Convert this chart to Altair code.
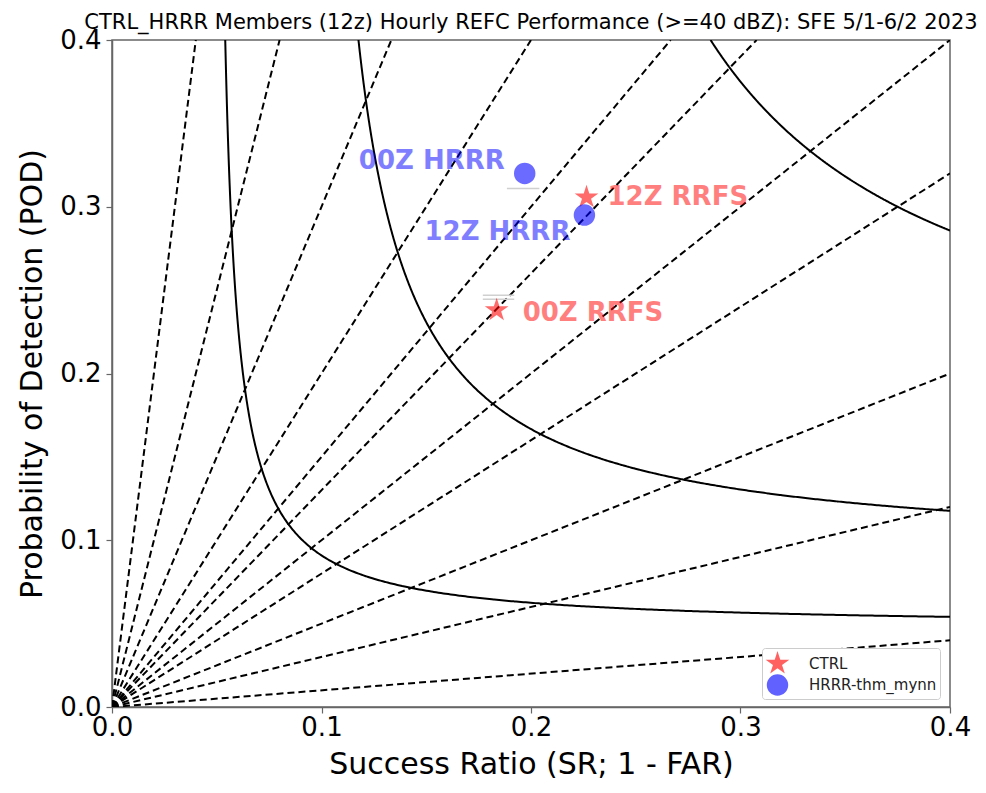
import numpy as np
import pandas as pd
import altair as alt

# Verification scores per run
models = ["CTRL", "CTRL", "HRRR-thm_mynn", "HRRR-thm_mynn"]
run_labels = ["12Z RRFS", "00Z RRFS", "12Z HRRR", "00Z HRRR"]
success_ratio = [0.2265, 0.1836, 0.2255, 0.1970]
pod = [0.3057, 0.2380, 0.2950, 0.3200]

# faint grey segments next to two of the runs
seg_sr_start = [0.1885, 0.1770, 0.1770]
seg_sr_end = [0.2040, 0.1920, 0.1920]
seg_pod = [0.3110, 0.2470, 0.2445]

# background reference lines of the performance diagram
csi_levels = [0.05, 0.1, 0.2]
bias_levels = [0.1, 0.3, 0.5, 0.8, 1.0, 1.3, 1.5, 2.0, 3.0, 5.0, 10.0]
axis_ticks = [0.0, 0.1, 0.2, 0.3, 0.4]
LIM = 0.4

model_colors = {"CTRL": "#ff0000", "HRRR-thm_mynn": "#0000ff"}

# label placement relative to each marker: (align, dx, dy)
label_layout = {
    "12Z RRFS": ("left", 21, 0),
    "00Z RRFS": ("left", 26, 3),
    "12Z HRRR": ("right", -14, 17),
    "00Z HRRR": ("right", -20, -12),
}

# five-point star symbol path in unit coordinates
_k = np.arange(10)
_ang = np.deg2rad(-90 + 36 * _k)
_rad = np.where(_k % 2 == 0, 1.0, 0.382)
STAR = "M" + " L".join(f"{r * np.cos(a):.4f},{r * np.sin(a):.4f}" for r, a in zip(_rad, _ang)) + " Z"

points = pd.DataFrame({"model": models, "label": run_labels, "sr": success_ratio, "pod": pod})
segments = pd.DataFrame({"sr": seg_sr_start, "sr2": seg_sr_end, "pod": seg_pod})

# CSI isolines: CSI = 1 / (1/SR + 1/POD - 1)
csi_rows = []
for c in csi_levels:
    inv = 1.0 / c + 1.0
    edge = 1.0 / (inv - 1.0 / LIM)  # SR where POD hits the top, and POD at the right edge
    sr_a = np.linspace(edge, LIM, 300)
    pod_a = 1.0 / (inv - 1.0 / sr_a)
    pod_b = np.linspace(edge, LIM, 300)
    sr_b = 1.0 / (inv - 1.0 / pod_b)
    sr_all = np.concatenate([sr_a, sr_b])
    pod_all = np.concatenate([pod_a, pod_b])
    order = np.argsort(sr_all)
    for s, p in zip(sr_all[order], pod_all[order]):
        csi_rows.append({"level": c, "sr": float(s), "pod": float(p)})
csi_df = pd.DataFrame(csi_rows)

# frequency bias lines: POD = bias * SR
bias_rows = []
for b in bias_levels:
    end = LIM / max(b, 1.0)
    bias_rows.append({"bias": b, "sr": 0.0, "pod": 0.0})
    bias_rows.append({"bias": b, "sr": end, "pod": b * end})
bias_df = pd.DataFrame(bias_rows)

x_scale = alt.Scale(domain=[0, LIM], nice=False, zero=False)
y_scale = alt.Scale(domain=[0, LIM], nice=False, zero=False)
x_axis = alt.Axis(values=axis_ticks, format=".1f", title="Success Ratio (SR; 1 - FAR)")
y_axis = alt.Axis(values=axis_ticks, format=".1f", title="Probability of Detection (POD)")


def xenc(field="sr"):
    return alt.X(f"{field}:Q", scale=x_scale, axis=x_axis)


def yenc(field="pod"):
    return alt.Y(f"{field}:Q", scale=y_scale, axis=y_axis)


bias_layer = alt.Chart(bias_df).mark_line(
    color="black", strokeWidth=2, strokeDash=[7, 4], clip=True
).encode(x=xenc(), y=yenc(), detail="bias:N")

csi_layer = alt.Chart(csi_df).mark_line(
    color="black", strokeWidth=2, clip=True
).encode(x=xenc(), y=yenc(), detail="level:N", order="sr:Q")

seg_layer = alt.Chart(segments).mark_rule(color="#d0d0d0", strokeWidth=1.5).encode(
    x=xenc(), x2="sr2:Q", y=yenc()
)

point_layer = alt.Chart(points).mark_point(filled=True, fillOpacity=0.58, strokeWidth=0).encode(
    x=xenc(),
    y=yenc(),
    color=alt.Color(
        "model:N",
        scale=alt.Scale(domain=list(model_colors), range=list(model_colors.values())),
        legend=alt.Legend(
            title=None,
            orient="none",
            legendX=650,
            legendY=608,
            fillColor="white",
            strokeColor="#cccccc",
            cornerRadius=3,
            padding=3,
            symbolSize=290,
            symbolOpacity=0.62,
            symbolStrokeWidth=0,
            labelFont="DejaVu Sans",
            labelFontSize=15,
            labelColor="#222222",
            rowPadding=0,
            labelOffset=19,
        ),
    ),
    shape=alt.Shape(
        "model:N",
        scale=alt.Scale(domain=list(model_colors), range=[STAR, "circle"]),
    ),
    size=alt.Size(
        "model:N",
        scale=alt.Scale(domain=list(model_colors), range=[620, 460]),
        legend=None,
    ),
)

text_layers = []
for lab, (align, dx, dy) in label_layout.items():
    mdl = points.loc[points["label"] == lab, "model"].iloc[0]
    text_layers.append(
        alt.Chart(points)
        .transform_filter(alt.datum.label == lab)
        .mark_text(
            align=align,
            baseline="middle",
            dx=dx,
            dy=dy,
            font="DejaVu Sans",
            fontSize=26,
            fontWeight="bold",
            color=model_colors[mdl],
            opacity=0.5,
        )
        .encode(x=xenc(), y=yenc(), text="label:N")
    )

chart = (
    alt.layer(bias_layer, csi_layer, seg_layer, point_layer, *text_layers)
    .properties(
        width=838,
        height=667,
        autosize=alt.AutoSizeParams(type="none"),
        padding={"left": 112, "top": 40, "right": 36, "bottom": 86},
        title=alt.TitleParams(
            text="CTRL_HRRR Members (12z) Hourly REFC Performance (>=40 dBZ): SFE 5/1-6/2 2023",
            font="DejaVu Sans",
            fontSize=21,
            fontWeight="normal",
            color="black",
            anchor="middle",
            frame="group",
            offset=-6,
        ),
    )
    .configure_view(stroke="#666666", strokeWidth=1.5)
    .configure_axis(
        grid=False,
        domainColor="#666666",
        domainWidth=1.5,
        tickColor="#666666",
        tickSize=6,
        tickWidth=1.2,
        labelFont="DejaVu Sans",
        labelFontSize=26,
        labelColor="black",
        labelFlush=False,
        labelOverlap=False,
        titleFont="DejaVu Sans",
        titleFontSize=30,
        titleFontWeight="normal",
        titleColor="black",
    )
    .configure_axisX(labelPadding=1, titlePadding=9)
    .configure_axisY(labelPadding=5, titlePadding=12)
)

chart.save("out.html", embed_options={"renderer": "svg", "actions": False})
